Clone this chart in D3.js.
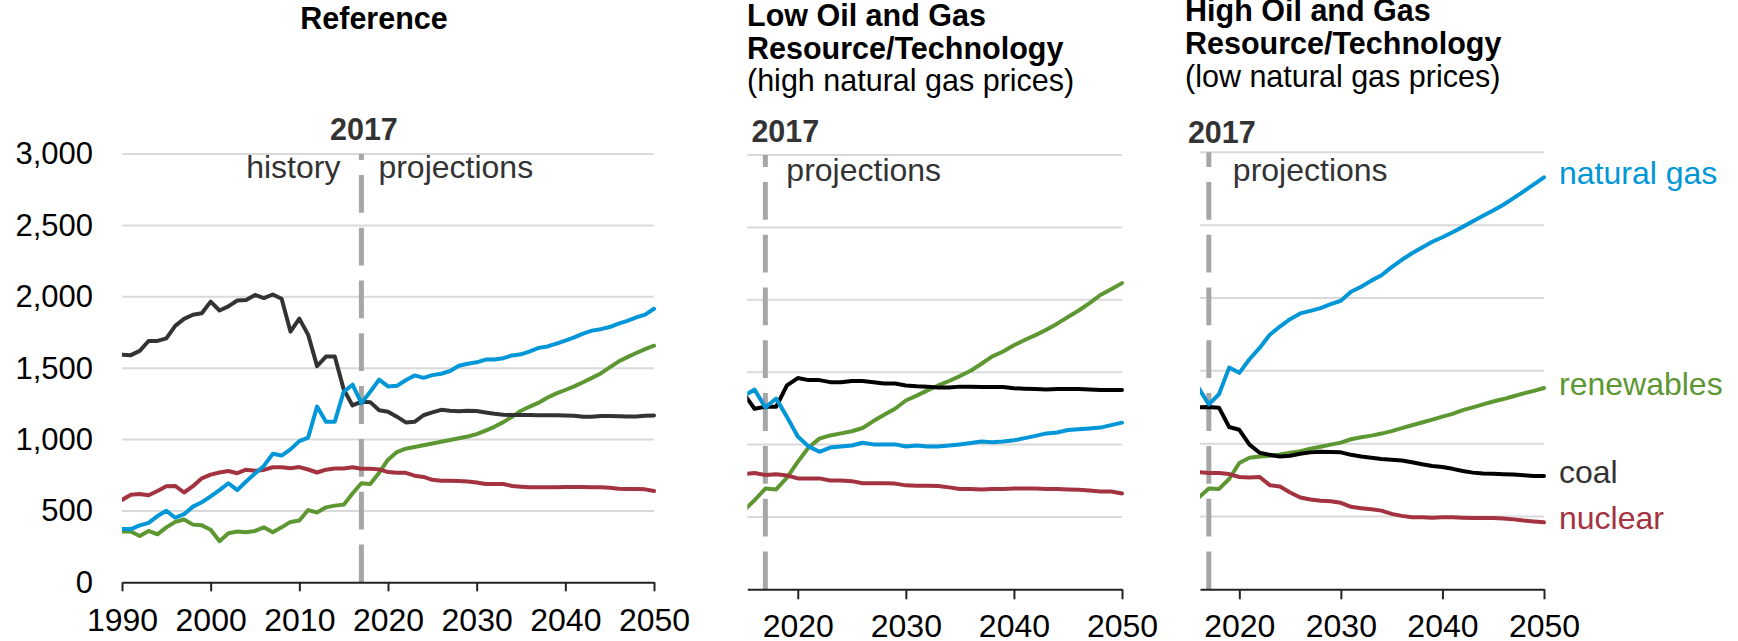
<!DOCTYPE html>
<html>
<head>
<meta charset="utf-8">
<script src="https://cdn.jsdelivr.net/npm/d3@7"></script>
<style>
  body { margin: 0; background: #fff; }
  svg { display: block; font-family: "Liberation Sans", Arial, sans-serif; }
</style>
</head>
<body>
<script>
// ---- data (billion kWh) ----
var refYears = d3.range(1990, 2051);
var lowYears = d3.range(2015, 2051);
var highYears = d3.range(2016, 2051);
var yTicks = [0, 500, 1000, 1500, 2000, 2500, 3000];

var refCoal = [1594,1591,1621,1690,1691,1709,1796,1845,1874,1884,
  1966,1904,1933,1974,1978,2013,1991,2016,1986,1756,
  1847,1733,1514,1581,1582,1352,1239,1265,1262,1205,
  1195,1160,1120,1124,1170,1190,1208,1202,1198,1202,
  1200,1190,1180,1174,1172,1172,1172,1170,1170,1170,
  1168,1166,1160,1160,1165,1165,1163,1161,1161,1167,1168];
var refGas = [373,373,399,416,464,501,452,477,530,561,
  602,646,694,646,706,762,815,900,888,931,
  989,1014,1231,1125,1125,1335,1384,1255,1335,1420,
  1372,1376,1415,1449,1432,1451,1461,1480,1517,1531,
  1541,1560,1560,1570,1589,1597,1618,1642,1652,1672,
  1693,1715,1742,1763,1773,1788,1812,1831,1855,1875,1916];
var refNuclear = [577,613,619,610,640,673,675,629,673,728,
  754,769,780,764,789,782,787,806,806,799,
  807,790,769,789,797,797,806,796,796,791,
  772,767,767,747,738,718,711,711,709,706,
  699,689,689,689,675,670,665,665,665,665,
  668,668,668,665,665,663,656,653,653,651,639];
var refRenew = [356,356,324,360,336,385,423,440,404,399,
  368,288,343,356,351,360,385,351,385,423,
  433,506,489,525,537,544,622,694,689,767,
  859,912,936,948,960,972,985,997,1009,1021,
  1038,1062,1089,1122,1159,1202,1231,1258,1294,1323,
  1347,1372,1401,1432,1463,1505,1546,1577,1606,1633,1657];

var lowCoal = [1352,1247,1261,1261,1408,1459,1445,1445,1431,1431,
  1439,1439,1431,1422,1422,1408,1403,1400,1394,1394,
  1400,1400,1397,1397,1397,1389,1386,1383,1380,1383,
  1383,1383,1380,1377,1377,1377];
var lowGas = [1335,1380,1256,1318,1191,1055,987,950,979,987,
  993,1012,1001,1001,1001,987,993,987,987,993,
  1001,1010,1021,1015,1021,1029,1044,1060,1077,1083,
  1100,1106,1111,1117,1134,1151];
var lowNuclear = [797,803,789,795,786,766,766,766,752,752,
  747,732,732,732,730,718,715,715,713,704,
  693,693,690,693,693,696,696,696,693,693,
  690,687,682,676,676,662];
var lowRenew = [544,615,696,690,772,880,979,1041,1063,1077,
  1092,1114,1162,1205,1247,1304,1338,1374,1408,1439,
  1473,1510,1558,1609,1643,1686,1722,1756,1793,1835,
  1881,1926,1977,2033,2073,2115];

var highCoal = [1249,1252,1247,1114,1095,993,937,923,912,917,
  931,940,945,943,940,923,912,903,895,889,
  884,872,858,847,839,827,812,801,795,793,
  790,788,783,778,778];
var highGas = [1382,1269,1339,1522,1486,1579,1657,1747,1804,1854,
  1894,1911,1930,1958,1981,2043,2077,2119,2156,2212,
  2262,2307,2347,2386,2417,2451,2488,2527,2564,2600,
  2640,2685,2732,2780,2828];
var highNuclear = [805,799,799,791,771,768,771,715,706,664,
  630,616,608,605,594,566,557,549,540,518,
  504,494,494,492,494,494,492,490,490,490,
  486,480,472,466,460];
var highRenew = [630,692,689,757,867,903,912,917,926,937,
  948,965,979,993,1007,1030,1044,1055,1069,1086,
  1106,1126,1145,1165,1185,1204,1230,1249,1269,1289,
  1306,1325,1345,1362,1382];

var seriesNames = ["natural gas", "renewables", "coal", "nuclear"];
var projYear = 2017;

// ---- layout ----
var W = 1738, H = 641;
var colors = {"natural gas": "#0096d7", "renewables": "#5d9732", "coal": "#000000", "nuclear": "#a33340"};

var panels = [
  { name: "ref", years: refYears, x0: 122, x1: 654, yTop: 154, yBot: 582.3, domain: [1990, 2050],
    ticks: [1990, 2000, 2010, 2020, 2030, 2040, 2050], tickLen: 9, tickPad: 17,
    series: {"natural gas": refGas, "renewables": refRenew, "coal": refCoal, "nuclear": refNuclear},
    coalColor: "#333333", yLabels: true,
    yearDx: 2.5, yearY: 140, projDx: 17, projY: 178, histDx: -21,
    title: [{t: "Reference", bold: true, x: 374, y: 29, anchor: "middle"}] },
  { name: "low", years: lowYears, x0: 747.3, x1: 1122, yTop: 155, yBot: 589.3, domain: [2015.33, 2050],
    ticks: [2020, 2030, 2040, 2050], tickLen: 10, tickPad: 15,
    series: {"natural gas": lowGas, "renewables": lowRenew, "coal": lowCoal, "nuclear": lowNuclear},
    coalColor: "#000000", yLabels: false,
    yearDx: 20, yearY: 142, projDx: 21, projY: 181,
    title: [{t: "Low Oil and Gas", bold: true, x: 747, y: 26},
            {t: "Resource/Technology", bold: true, x: 747, y: 59},
            {t: "(high natural gas prices)", bold: false, x: 747, y: 91}] },
  { name: "high", years: highYears, x0: 1200, x1: 1544, yTop: 152.3, yBot: 589.3, domain: [2016.13, 2050],
    ticks: [2020, 2030, 2040, 2050], tickLen: 10, tickPad: 15,
    series: {"natural gas": highGas, "renewables": highRenew, "coal": highCoal, "nuclear": highNuclear},
    coalColor: "#000000", yLabels: false, endLabels: true,
    yearDx: 13, yearY: 143, projDx: 24, projY: 181,
    title: [{t: "High Oil and Gas", bold: true, x: 1185, y: 21},
            {t: "Resource/Technology", bold: true, x: 1185, y: 54},
            {t: "(low natural gas prices)", bold: false, x: 1185, y: 87}] }
];

var svg = d3.select("body").append("svg")
    .attr("width", W)
    .attr("height", H);

panels.forEach(function(p, i) {
  var x = d3.scaleLinear().domain(p.domain).range([p.x0, p.x1]);
  var y = d3.scaleLinear().domain([0, 3000]).range([p.yBot, p.yTop]);
  var g = svg.append("g").attr("class", "panel-" + p.name);

  // titles
  p.title.forEach(function(t) {
    g.append("text")
      .attr("x", t.x).attr("y", t.y)
      .attr("text-anchor", t.anchor || "start")
      .attr("font-size", 30.5)
      .attr("font-weight", t.bold ? "bold" : "normal")
      .attr("fill", "#000")
      .text(t.t);
  });

  // gridlines
  g.append("g").selectAll("line")
    .data(yTicks.filter(function(d) { return d > 0; }))
    .enter().append("line")
      .attr("x1", p.x0).attr("x2", p.x1)
      .attr("y1", function(d) { return y(d); })
      .attr("y2", function(d) { return y(d); })
      .attr("stroke", "#d9d9d9")
      .attr("stroke-width", 2);

  // y labels (first panel only)
  if (p.yLabels) {
    var ya = g.append("g")
        .attr("transform", "translate(" + p.x0 + ",0)")
        .call(d3.axisLeft(y).tickValues(yTicks).tickSize(0).tickPadding(29).tickFormat(d3.format(",")));
    ya.select(".domain").remove();
    ya.selectAll("text").attr("font-size", 31).attr("fill", "#000").attr("font-family", null);
  }

  // 2017 dashed divider, drawn from the bottom up
  g.append("line")
    .attr("x1", x(projYear)).attr("x2", x(projYear))
    .attr("y1", y(0)).attr("y2", y(3000))
    .attr("stroke", "#a6a6a6")
    .attr("stroke-width", 5)
    .attr("stroke-dasharray", "37.8,15");

  g.append("text")
    .attr("x", x(projYear) + p.yearDx).attr("y", p.yearY)
    .attr("text-anchor", "middle")
    .attr("font-size", 30.5).attr("font-weight", "bold")
    .attr("fill", "#333")
    .text(projYear);

  g.append("text")
    .attr("x", x(projYear) + p.projDx).attr("y", p.projY)
    .attr("font-size", 32).attr("fill", "#333")
    .text("projections");

  if (p.histDx !== undefined) {
    g.append("text")
      .attr("x", x(projYear) + p.histDx).attr("y", p.projY)
      .attr("text-anchor", "end")
      .attr("font-size", 32).attr("fill", "#333")
      .text("history");
  }

  // series lines, clipped to the plot area
  var clipId = "clip-" + p.name;
  svg.append("clipPath").attr("id", clipId)
    .append("rect")
      .attr("x", p.x0).attr("y", 0)
      .attr("width", p.x1 - p.x0 + 10).attr("height", H);

  var line = d3.line()
      .x(function(d) { return x(d[0]); })
      .y(function(d) { return y(d[1]); });

  var order = ["renewables", "nuclear", "coal", "natural gas"];
  var lg = g.append("g").attr("clip-path", "url(#" + clipId + ")");
  order.forEach(function(name) {
    var vals = p.series[name];
    var pts = p.years.map(function(yr, k) { return [yr, vals[k]]; });
    lg.append("path")
      .datum(pts)
      .attr("d", line)
      .attr("fill", "none")
      .attr("stroke", name === "coal" ? p.coalColor : colors[name])
      .attr("stroke-width", 4)
      .attr("stroke-linejoin", "round")
      .attr("stroke-linecap", "round");
  });

  // x axis
  var xa = g.append("g")
      .attr("transform", "translate(0," + y(0) + ")")
      .call(d3.axisBottom(x).tickValues(p.ticks).tickSize(p.tickLen).tickSizeOuter(0)
            .tickPadding(p.tickPad).tickFormat(d3.format("d")));
  xa.select(".domain").attr("stroke", "#222").attr("stroke-width", 2);
  xa.selectAll(".tick line").attr("stroke", "#222").attr("stroke-width", 2);
  xa.selectAll("text").attr("font-size", 32).attr("fill", "#000").attr("font-family", null);

  // end-of-line labels (last panel)
  if (p.endLabels) {
    var labelColors = {"natural gas": "#0096d7", "renewables": "#5d9732", "coal": "#333333", "nuclear": "#a33340"};
    seriesNames.forEach(function(name) {
      var vals = p.series[name];
      g.append("text")
        .attr("x", p.x1 + 15)
        .attr("y", y(vals[vals.length - 1]))
        .attr("dy", "0.22em")
        .attr("font-size", 32)
        .attr("fill", labelColors[name])
        .text(name);
    });
  }
});
</script>
</body>
</html>
